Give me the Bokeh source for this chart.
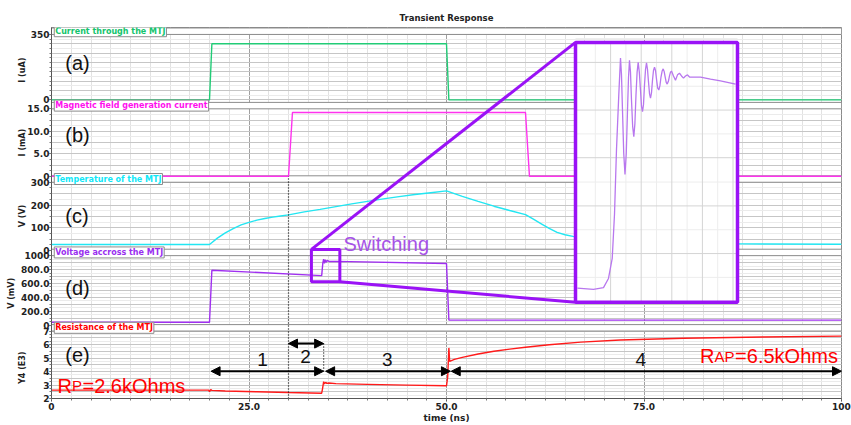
import numpy as np
from bokeh.plotting import figure
from bokeh.models import Range1d, FixedTicker, Grid, Arrow, NormalHead, LinearAxis
from bokeh.embed import file_html
from bokeh.resources import INLINE
from bokeh.core.properties import value

# ---------------- data ----------------
title_text = "Transient Response"
x_ticks = [0, 25, 50, 75, 100]
x_tick_labels = ["0", "25.0", "50.0", "75.0", "100"]
x_label = "time (ns)"

# (a) current through the MTJ (uA)
t_a = [0, 20.0, 20.3, 50.0, 50.3, 100]
i_a = [0, 0, 300, 300, 0, 0]
ticks_a = [0, 350]
tlab_a = ["0", "350"]

# (b) magnetic field generation current (mA)
t_b = [0, 30.0, 30.5, 60.0, 60.5, 100]
i_b = [0, 0, 14.2, 14.2, 0, 0]
ticks_b = [0, 5, 10, 15]
tlab_b = ["0", "5.0", "10.0", "15.0"]

# (c) temperature of the MTJ
t_c = [0, 20, 21, 22, 23, 24, 25, 26, 27, 28, 29, 30, 32, 34, 36, 38, 40, 42, 44, 46, 48, 50,
       52, 54, 56, 58, 60, 61, 62, 63, 64, 65, 66, 68, 70, 75, 80, 87, 100]
T_c = [27, 27, 55, 78, 97, 113, 124, 134, 141, 147, 152, 157, 170, 181, 193, 205, 216, 227, 237, 246, 254, 262,
       238, 216, 195, 176, 158, 138, 118, 98, 80, 70, 63, 53, 46, 37, 33, 30, 28]
ticks_c = [0, 100, 200, 300]
tlab_c = ["0", "100", "200", "300"]

# (d) voltage across the MTJ (mV)
t_d = [0, 20.0, 20.3, 34.2, 34.35, 34.45, 34.55, 34.65, 34.75, 34.9, 35.2, 36, 50.0, 50.3, 100]
V_d = [40, 40, 790, 712, 900, 950, 890, 940, 905, 930, 915, 918, 888, 72, 72]
ticks_d = [0, 200, 400, 600, 800, 1000]
tlab_d = ["0", "200.0", "400.0", "600.0", "800.0", "1000"]

# (e) resistance of the MTJ (kOhm)
t_e = [0, 19.9, 20.0, 20.15, 20.3, 22, 26, 30, 34.2, 34.3, 34.45, 34.55, 34.7, 34.85, 35.1, 36, 40, 45,
       50.0, 50.15, 50.3, 50.4, 51, 52, 54, 56, 58, 60, 63, 67, 72, 80, 90, 100]
R_e = [2.62, 2.62, 2.50, 2.66, 2.60, 2.56, 2.50, 2.44, 2.39, 2.7, 3.25, 3.08, 3.2, 3.12, 3.15, 3.1, 3.05, 2.99,
       2.94, 3.6, 5.75, 4.75, 4.9, 5.05, 5.3, 5.5, 5.66, 5.8, 5.98, 6.18, 6.34, 6.47, 6.56, 6.62]
ticks_e = [2, 3, 4, 5, 6, 7]
tlab_e = ["2", "3", "4", "5", "6", "7"]

# zoomed switching window (panel d units) and inset waveform
zoom_t = [32.9, 36.5]
zoom_v = [624, 1090]
inset_t_range = [32.9, 36.5]
inset_v_range = [620, 1100]
ins_t = [32.944, 33.300, 33.522, 33.633, 33.716, 33.767, 33.811, 33.862, 33.900, 33.922, 33.944, 33.972,
         34.000, 34.028, 34.056, 34.078, 34.100, 34.122, 34.144, 34.170, 34.196, 34.220, 34.244, 34.269,
         34.293, 34.318, 34.344, 34.367, 34.389, 34.411, 34.433, 34.456, 34.478, 34.500, 34.522, 34.545,
         34.567, 34.589, 34.611, 34.633, 34.656, 34.678, 34.700, 34.725, 34.751, 34.776, 34.800, 34.825,
         34.849, 34.871, 34.893, 34.916, 34.938, 34.964, 34.989, 35.011, 35.033, 35.078, 35.122, 35.167,
         35.211, 35.256, 35.300, 35.344, 35.389, 35.433, 35.478, 35.678, 35.900, 36.122, 36.456]
ins_v = [646, 644, 647, 664, 701, 783, 902, 1003, 1071, 1040, 975, 895,
         856, 895, 975, 1035, 1067, 1045, 994, 945, 926, 950, 1003, 1045,
         1063, 1045, 1012, 982, 972, 985, 1021, 1050, 1062, 1050, 1027, 1005,
         997, 1007, 1030, 1048, 1054, 1048, 1032, 1016, 1012, 1020, 1036, 1047,
         1051, 1046, 1036, 1026, 1023, 1028, 1038, 1045, 1047, 1038, 1030, 1040,
         1043, 1038, 1034, 1038, 1040, 1036, 1036, 1036, 1032, 1029, 1023]
inset_grid_t = [33.68, 34.36, 35.04, 35.72, 36.40]
inset_grid_v = [710, 798, 887, 975, 1063]

# phase annotations in panel (e)
phase_labels = ["1", "2", "3", "4"]
phase_start = [20.2, 30.0, 34.7, 50.6]
phase_end = [34.45, 34.45, 50.5, 100.0]
phase_row = [4.02, 6.07, 4.02, 4.02]
phase_label_x = [26.7, 32.15, 42.5, 74.6]
phase_label_y = [4.9, 5.15, 4.9, 4.9]
switch_times = [30.0, 34.45]

# ---------------- layout / styling ----------------
H = 374.0
FONT = value("Liberation Sans")
AXF = "DejaVu Sans"
panels = [
    dict(name="a", lo=301, hi=367, vmin=0, vmax=350, t=t_a, y=i_a, color="#22cc77", tcolor="#14c46c",
         ticks=ticks_a, labels=tlab_a, gmaj=50, gmin=25, title="Current through the MTJ",
         letter="(a)", letter_y=338, ylab="I (uA)", ylab_y=331),
    dict(name="b", lo=224, hi=292, vmin=0, vmax=15, t=t_b, y=i_b, color="#ff33ee", tcolor="#ff10ee",
         ticks=ticks_b, labels=tlab_b, gmaj=2.5, gmin=1.25, title="Magnetic field generation current",
         letter="(b)", letter_y=266, ylab="I (mA)", ylab_y=258),
    dict(name="c", lo=149, hi=218, vmin=0, vmax=300, t=t_c, y=T_c, color="#22e6f2", tcolor="#10e8f8",
         ticks=ticks_c, labels=tlab_c, gmaj=50, gmin=25, title="Temperature of the MTJ",
         letter="(c)", letter_y=184, ylab="V (V)", ylab_y=184),
    dict(name="d", lo=74, hi=144, vmin=0, vmax=1000, t=t_d, y=V_d, color="#a030f0", tcolor="#9a2ef0",
         ticks=ticks_d, labels=tlab_d, gmaj=100, gmin=50, title="Voltage accross the MTJ",
         letter="(d)", letter_y=111, ylab="V (mV)", ylab_y=106),
    dict(name="e", lo=0, hi=68, vmin=2, vmax=7, t=t_e, y=R_e, color="#ff1a1a", tcolor="#ff0000",
         ticks=ticks_e, labels=tlab_e, gmaj=0.5, gmin=0.25, title="Resistance of the MTJ",
         letter="(e)", letter_y=44, ylab="Y4 (E3)", ylab_y=31),
]


def to_frame(pn, v):
    return pn["lo"] + (v - pn["vmin"]) * (pn["hi"] - pn["lo"]) / (pn["vmax"] - pn["vmin"])


p = figure(width=851, height=425, x_range=Range1d(0, 100), y_range=Range1d(0, H),
           output_backend="svg", toolbar_location=None,
           min_border_left=51, min_border_right=10, min_border_top=27, min_border_bottom=0)
p.background_fill_color = "white"
p.border_fill_color = "white"
p.outline_line_color = "#8a8a8a"
p.title.text = title_text
p.title.align = "center"
p.title.text_font = AXF
p.title.text_font_size = "8.5px"
p.title.text_font_style = "bold"
p.title.text_color = "#222222"
p.title.standoff = 9

# extra ranges for each panel
for pn in panels:
    s = (pn["vmax"] - pn["vmin"]) / (pn["hi"] - pn["lo"])
    start = pn["vmin"] - pn["lo"] * s
    p.extra_y_ranges[pn["name"]] = Range1d(start, start + H * s)

# inset ranges
ix0, ix1 = (575 - 51) / 7.9, (737 - 51) / 7.9
iy0, iy1 = 401 - 304, 401 - 42
sx = (inset_t_range[1] - inset_t_range[0]) / (ix1 - ix0)
xs0 = inset_t_range[0] - ix0 * sx
p.extra_x_ranges["ix"] = Range1d(xs0, xs0 + 100 * sx)
sy = (inset_v_range[1] - inset_v_range[0]) / (iy1 - iy0)
ys0 = inset_v_range[0] - iy0 * sy
p.extra_y_ranges["iy"] = Range1d(ys0, ys0 + H * sy)

# x axis
xa = p.xaxis[0]
xa.ticker = FixedTicker(ticks=x_ticks, minor_ticks=list(np.arange(0, 100.01, 2.5)))
xa.major_label_overrides = {t: l for t, l in zip(x_ticks, x_tick_labels)}
xa.axis_label = x_label
xa.axis_label_text_font = AXF
xa.axis_label_text_font_size = "9px"
xa.axis_label_text_font_style = "bold"
xa.axis_label_text_color = "#222222"
xa.axis_label_standoff = 0
xa.major_label_text_font = AXF
xa.major_label_text_font_size = "9px"
xa.major_label_text_font_style = "bold"
xa.major_label_text_color = "#222222"
xa.major_label_standoff = 1
xa.major_tick_in = 0
xa.major_tick_out = 3
xa.minor_tick_in = 0
xa.minor_tick_out = 2
xa.axis_line_color = "#555555"
xa.major_tick_line_color = "#444444"
xa.minor_tick_line_color = "#777777"

p.xgrid.grid_line_color = "#a0a0a0"
p.xgrid.minor_grid_line_color = "#e2e2e2"

# y axis: one axis carrying all panels' ticks
ypos, ylab, gmaj, gmin = [], {}, [], []
for pn in panels:
    for v, l in zip(pn["ticks"], pn["labels"]):
        pos = round(to_frame(pn, v), 3)
        ypos.append(pos)
        ylab[pos] = l
    for v in np.arange(pn["vmin"], pn["vmax"] + 1e-9, pn["gmaj"]):
        gmaj.append(round(to_frame(pn, v), 3))
    for v in np.arange(pn["vmin"], pn["vmax"] + 1e-9, pn["gmin"]):
        gmin.append(round(to_frame(pn, v), 3))
ya = p.yaxis[0]
ya.ticker = FixedTicker(ticks=ypos, minor_ticks=gmin)
ya.major_label_overrides = ylab
ya.major_label_text_font = AXF
ya.major_label_text_font_size = "9px"
ya.major_label_text_font_style = "bold"
ya.major_label_text_color = "#222222"
ya.major_label_standoff = 0
ya.major_tick_in = 0
ya.major_tick_out = 2
ya.minor_tick_in = 0
ya.minor_tick_out = 2
ya.axis_line_color = "#555555"
ya.major_tick_line_color = "#444444"
ya.minor_tick_line_color = "#777777"
p.ygrid.visible = False
p.add_layout(Grid(dimension=1, ticker=FixedTicker(ticks=gmaj, minor_ticks=gmin),
                  grid_line_color="#c6c6c6", minor_grid_line_color="#ebebeb"))


# extra left axes carrying the per-panel quantity names (rotated)
def name_axis(pns, standoff):
    return LinearAxis(ticker=FixedTicker(ticks=[q["ylab_y"] for q in pns], minor_ticks=[]),
                      major_label_overrides={q["ylab_y"]: q["ylab"] for q in pns},
                      major_label_orientation="vertical", major_label_standoff=standoff,
                      major_label_text_font=AXF, major_label_text_font_size="8px",
                      major_label_text_font_style="bold", major_label_text_color="#222222",
                      axis_line_color=None, major_tick_line_color=None, minor_tick_line_color=None,
                      major_tick_out=0, major_tick_in=0)


p.add_layout(name_axis([panels[0], panels[1], panels[2], panels[4]], -9), "left")
p.add_layout(name_axis([panels[3]], -1), "left")

# header strips
for pn in panels:
    p.quad(left=0, right=100, bottom=pn["hi"], top=pn["hi"] + 6.5,
           fill_color="white", line_color="#8c8c8c", line_width=1)

# data lines
for pn in panels:
    p.line(pn["t"], pn["y"], y_range_name=pn["name"], line_color=pn["color"], line_width=1.4)

# dotted switching markers
pb = panels[1]
p.line([switch_times[0], switch_times[0]], [0, pb["lo"]], line_color="black",
       line_dash="1 2", line_width=1.2)
p.line([switch_times[1], switch_times[1]], [phase_row[1], phase_row[0]], y_range_name="e",
       line_color="black", line_dash="1 2", line_width=1.2)

# inset
ZC = "#9a12f6"
p.quad(left=ix0, right=ix1, bottom=iy0, top=iy1, fill_color="white", line_color=None)
mid_t = [a + 0.34 for a in [inset_grid_t[0] - 0.68] + inset_grid_t[:-1]]
mid_v = [a + 44 for a in [inset_grid_v[0] - 88] + inset_grid_v]
p.segment(x0=mid_t, y0=[inset_v_range[0]] * len(mid_t), x1=mid_t, y1=[inset_v_range[1]] * len(mid_t),
          x_range_name="ix", y_range_name="iy", line_color="#ededed", line_width=1)
p.segment(x0=[inset_t_range[0]] * len(mid_v), y0=mid_v, x1=[inset_t_range[1]] * len(mid_v), y1=mid_v,
          x_range_name="ix", y_range_name="iy", line_color="#ededed", line_width=1)
p.segment(x0=inset_grid_t, y0=[inset_v_range[0]] * 5, x1=inset_grid_t, y1=[inset_v_range[1]] * 5,
          x_range_name="ix", y_range_name="iy", line_color="#d4d4d4", line_width=1)
p.segment(x0=[inset_t_range[0]] * 5, y0=inset_grid_v, x1=[inset_t_range[1]] * 5, y1=inset_grid_v,
          x_range_name="ix", y_range_name="iy", line_color="#d4d4d4", line_width=1)
p.line(ins_t, ins_v, x_range_name="ix", y_range_name="iy", line_color="#b877ee", line_width=1.3)
p.quad(left=ix0, right=ix1, bottom=iy0, top=iy1, fill_color=None, line_color=ZC, line_width=3.5)

pd_ = panels[3]
p.quad(left=zoom_t[0], right=zoom_t[1], bottom=zoom_v[0], top=zoom_v[1], y_range_name="d",
       fill_color=None, line_color=ZC, line_width=3)
p.segment(x0=[zoom_t[0], zoom_t[1]], y0=[to_frame(pd_, zoom_v[1]), to_frame(pd_, zoom_v[0])],
          x1=[ix0, ix0], y1=[iy1, iy0], line_color=ZC, line_width=3)
p.text(x=[zoom_t[1] + 0.45], y=[to_frame(pd_, zoom_v[1]) + 5.5], text=["Switching"],
       text_font=FONT, text_font_size="20px", text_color="#a652e6",
       text_align="left", text_baseline="middle")

# panel letters
for pn in panels:
    p.text(x=[1.75], y=[pn["letter_y"]], text=[pn["letter"]], text_font=FONT,
           text_font_size="20px", text_color="#111111", text_align="left", text_baseline="middle")

# phase arrows and labels
for s0, s1, r in zip(phase_start, phase_end, phase_row):
    p.add_layout(Arrow(start=NormalHead(size=9, fill_color="black", line_color="black"),
                       end=NormalHead(size=9, fill_color="black", line_color="black"),
                       x_start=s0, y_start=r, x_end=s1, y_end=r, y_range_name="e",
                       line_color="black", line_width=2))
p.text(x=phase_label_x, y=phase_label_y, text=phase_labels, y_range_name="e", text_font=FONT,
       text_font_size="19px", text_color="#111111", text_align="center", text_baseline="middle")

# resistance annotations
RED = "#ff0000"
for txt, size, off in [("R", "20px", 0), ("P", "15px", 14.6), ("=2.6kOhms", "20px", 25)]:
    p.text(x=[0.76], y=[2.93], text=[txt], x_offset=off, y_range_name="e", text_font=FONT,
           text_font_size=size, text_color=RED, text_align="left", text_baseline="alphabetic")
for txt, size, off in [("R", "20px", 0), ("AP", "15px", 14.4), ("=6.5kOhms", "20px", 35)]:
    p.text(x=[82.1], y=[5.14], text=[txt], x_offset=off, y_range_name="e", text_font=FONT,
           text_font_size=size, text_color=RED, text_align="left", text_baseline="alphabetic")

# header tabs
for pn in panels:
    p.text(x=[0.35], y=[pn["hi"] + 3.25], text=[pn["title"]], text_font=value(AXF),
           text_font_size="8px", text_font_style="bold", text_color=pn["tcolor"],
           text_align="left", text_baseline="middle",
           background_fill_color="white", border_line_color="#8c8c8c", padding=1)

open("out.html", "w").write(file_html(p, INLINE))
